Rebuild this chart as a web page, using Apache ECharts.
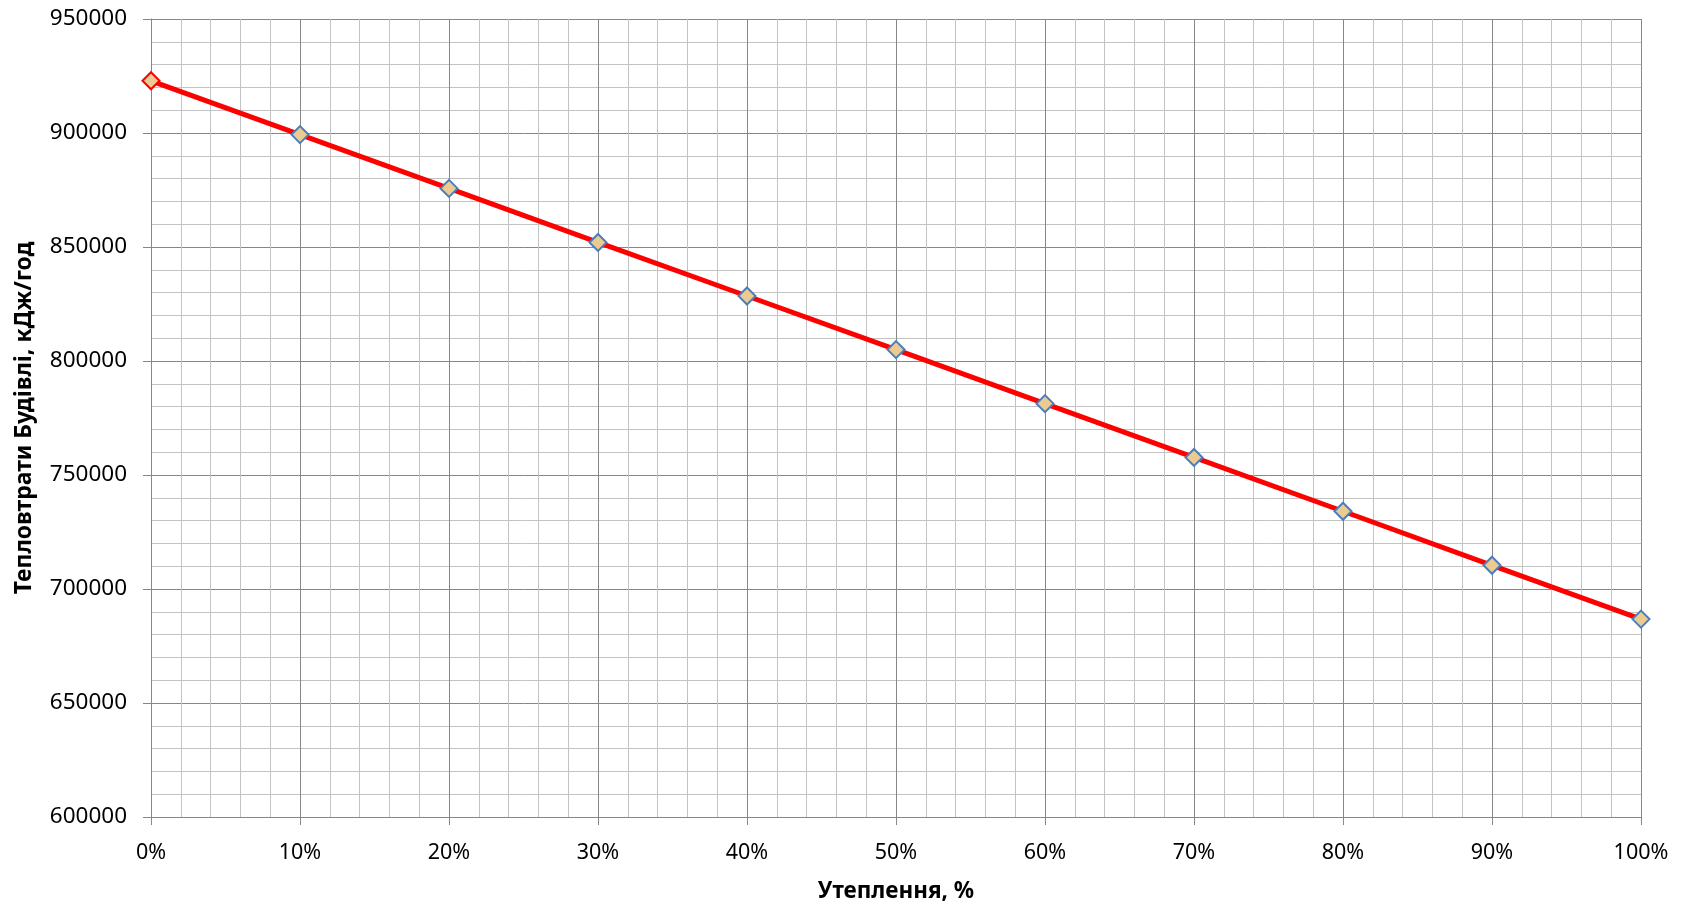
<!DOCTYPE html>
<html>
<head>
<meta charset="utf-8">
<script src="https://cdn.jsdelivr.net/npm/echarts@6/dist/echarts.min.js"></script>
<style>
  html, body { margin: 0; padding: 0; background: #ffffff; }
  #chart { width: 1694px; height: 913px; }
</style>
</head>
<body>
<div id="chart"></div>
<script>
// Insulation level, % of the full insulation package
const insulation = [0, 10, 20, 30, 40, 50, 60, 70, 80, 90, 100];
// Building heat losses, kJ/h
const heatLoss = [922900, 899300, 875700, 852000, 828500, 805000, 781300, 757700, 734100, 710400, 686800];

const xTitle = 'Утеплення, %';
const yTitle = 'Тепловтрати Будівлі, кДж/год';

const FONT = '"Noto Sans", "Open Sans", sans-serif';
const MAJOR = '#878787';
const MINOR = '#c3c3c3';

const points = insulation.map((x, i) => ({
  value: [x, heatLoss[i]],
  itemStyle: i === 0 ? { borderColor: '#ff0000' } : undefined
}));

const chart = echarts.init(document.getElementById('chart'), null, { renderer: 'canvas' });
chart.setOption({
  animation: false,
  backgroundColor: '#ffffff',
  grid: { left: 151, right: 53, top: 19, bottom: 96, containLabel: false },
  xAxis: {
    type: 'value',
    min: 0, max: 100, interval: 10,
    name: xTitle,
    nameLocation: 'middle',
    nameGap: 63,
    nameTextStyle: { fontFamily: FONT, fontSize: 22.5, fontWeight: 'bold', color: '#000' },
    axisLine: { show: true, lineStyle: { color: MAJOR, width: 1 } },
    axisTick: { show: true, length: 8, lineStyle: { color: MAJOR } },
    axisLabel: { formatter: '{value}%', margin: 25, fontFamily: FONT, fontSize: 21.5, color: '#000' },
    splitLine: { show: true, lineStyle: { color: MAJOR, width: 1 } },
    minorTick: { show: false, splitNumber: 5 },
    minorSplitLine: { show: true, lineStyle: { color: MINOR, width: 1 } }
  },
  yAxis: {
    type: 'value',
    min: 600000, max: 950000, interval: 50000,
    name: yTitle,
    nameLocation: 'middle',
    nameGap: 115,
    nameTextStyle: { fontFamily: FONT, fontSize: 23, fontWeight: 'bold', color: '#000' },
    axisLine: { show: true, lineStyle: { color: MAJOR, width: 1 } },
    axisTick: { show: true, length: 8, lineStyle: { color: MAJOR } },
    axisLabel: { margin: 24, fontFamily: FONT, fontSize: 22.5, color: '#000', formatter: (v) => String(v) },
    splitLine: { show: true, lineStyle: { color: MAJOR, width: 1 } },
    minorTick: { show: false, splitNumber: 5 },
    minorSplitLine: { show: true, lineStyle: { color: MINOR, width: 1 } }
  },
  series: [{
    type: 'line',
    data: points,
    symbol: 'diamond',
    symbolSize: 17,
    lineStyle: { color: '#ff0000', width: 5 },
    itemStyle: { color: '#eccb93', borderColor: '#4a7ebb', borderWidth: 2 },
    z: 3
  }]
});
</script>
</body>
</html>
